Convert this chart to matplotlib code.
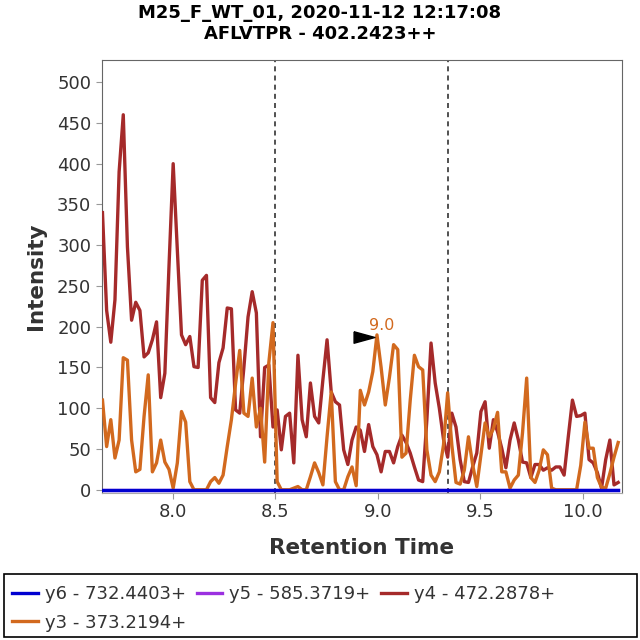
import numpy as np
import matplotlib
matplotlib.use("Agg")
import matplotlib.pyplot as plt
from matplotlib.patches import Rectangle

# scan grid (retention time, minutes)
rt_start = 7.6555
rt_step = 0.02031

# transition intensities
y4_vals = [340, 220, 181, 233, 390, 460, 298, 208, 230, 220,
           163, 168, 184, 206, 113, 143, 275, 400, 294, 190,
           178, 188, 151, 150, 257, 263, 113, 107, 156, 174,
           223, 222, 98, 94, 150, 212, 243, 217, 65, 150,
           153, 77, 98, 49, 90, 94, 33, 165, 86, 65,
           131, 90, 82, 135, 184, 120, 108, 104, 49, 31,
           61, 77, 73, 47, 80, 53, 43, 22, 47, 47,
           33, 53, 67, 58, 45, 28, 12, 10, 86, 180,
           131, 100, 62, 40, 94, 77, 37, 10, 9, 28,
           45, 96, 108, 51, 86, 71, 51, 27, 61, 82,
           61, 34, 33, 15, 31, 31, 24, 27, 24, 28,
           28, 18, 65, 110, 90, 91, 94, 37, 33, 21,
           2, 37, 61, 6, 9]

y3_vals = [110, 53, 86, 39, 61, 162, 159, 61, 22, 25,
           90, 141, 22, 33, 61, 34, 25, 2, 33, 96,
           83, 10, 0, 0, 0, 0, 10, 15, 8, 18,
           53, 86, 130, 171, 94, 90, 137, 77, 100, 34,
           156, 205, 10, 0, 0, 0, 2, 4, 0, 0,
           16, 33, 21, 6, 65, 120, 10, 0, 0, 16,
           28, 5, 122, 104, 120, 145, 190, 150, 104, 138,
           178, 172, 40, 45, 110, 165, 151, 147, 49, 18,
           10, 22, 55, 119, 55, 9, 7, 24, 65, 31,
           4, 43, 82, 65, 75, 95, 22, 22, 2, 12,
           18, 70, 137, 15, 9, 24, 49, 43, 2, 0,
           0, 0, 0, 0, 0, 30, 83, 51, 51, 15,
           3, 2, 20, 40, 58]

y6_vals = [0] * len(y4_vals)
y5_vals = [0] * len(y4_vals)

labels = ["y6 - 732.4403+", "y5 - 585.3719+", "y4 - 472.2878+", "y3 - 373.2194+"]
colors = ["#0000d0", "#9b30e0", "#a52a2a", "#d2691e"]

boundaries = [8.5, 9.342]
peak_rt, peak_label = 8.996, "9.0"

rt = rt_start + rt_step * np.arange(len(y4_vals))

fig = plt.figure(figsize=(6.4, 6.4), dpi=100)
ax = fig.add_axes([0.159, 0.230, 0.813, 0.676])

lw = 2.4
l5, = ax.plot(rt, y5_vals, color=colors[1], lw=lw, label=labels[1], zorder=2)
l4, = ax.plot(rt, y4_vals, color=colors[2], lw=lw, label=labels[2], zorder=3)
l3, = ax.plot(rt, y3_vals, color=colors[3], lw=lw, label=labels[3], zorder=4)
l6, = ax.plot(rt, y6_vals, color=colors[0], lw=lw, label=labels[0], zorder=5)

for b in boundaries:
    ax.axvline(b, color="#333333", lw=1.2, ls=(0, (3, 2.5)), zorder=1)

# apex marker + label
arrow = [(-1, 0.55), (1, 0), (-1, -0.55), (-1, 0.55)]
ax.plot([peak_rt - 0.064], [187.5], marker=arrow, markersize=15,
        color="black", ls="none", zorder=6)
ax.text(peak_rt + 0.024, 202, peak_label, color=colors[3], fontsize=11.5,
        ha="center", va="center", zorder=6)

ax.set_xlim(7.652, 10.193)
ax.set_ylim(-3.7, 527)
ax.set_xticks([8.0, 8.5, 9.0, 9.5, 10.0])
ax.set_yticks(np.arange(0, 501, 50))
ax.tick_params(labelsize=13, colors="#999999", labelcolor="#333333", length=4)
for side in ["left", "top", "right"]:
    ax.spines[side].set_color("#666666")
ax.spines["bottom"].set_color("#aaaaaa")

ax.set_xlabel("Retention Time", fontsize=15.5, fontweight="bold", color="#333333", labelpad=12)
ax.set_ylabel("Intensity", fontsize=15.5, fontweight="bold", color="#333333", labelpad=8)

fig.text(0.5, 0.994, "M25_F_WT_01, 2020-11-12 12:17:08\nAFLVTPR - 402.2423++",
         ha="center", va="top", fontsize=13, fontweight="bold", linespacing=1.2)

# legend fills column-wise; order so rows read y6, y5, y4 / y3
leg = fig.legend([l6, l3, l5, l4], [labels[0], labels[3], labels[1], labels[2]],
                 loc="upper left", bbox_to_anchor=(0.008, 0.097), ncol=3,
                 fontsize=13, frameon=False, handlelength=1.4, handletextpad=0.4,
                 columnspacing=0.6, borderaxespad=0, labelspacing=0.58)
for t in leg.get_texts():
    t.set_color("#333333")

fig.patches.append(Rectangle((0.006, 0.005), 0.989, 0.098, transform=fig.transFigure,
                             fill=False, edgecolor="black", lw=1.2))

fig.savefig("out.png", dpi=100)
